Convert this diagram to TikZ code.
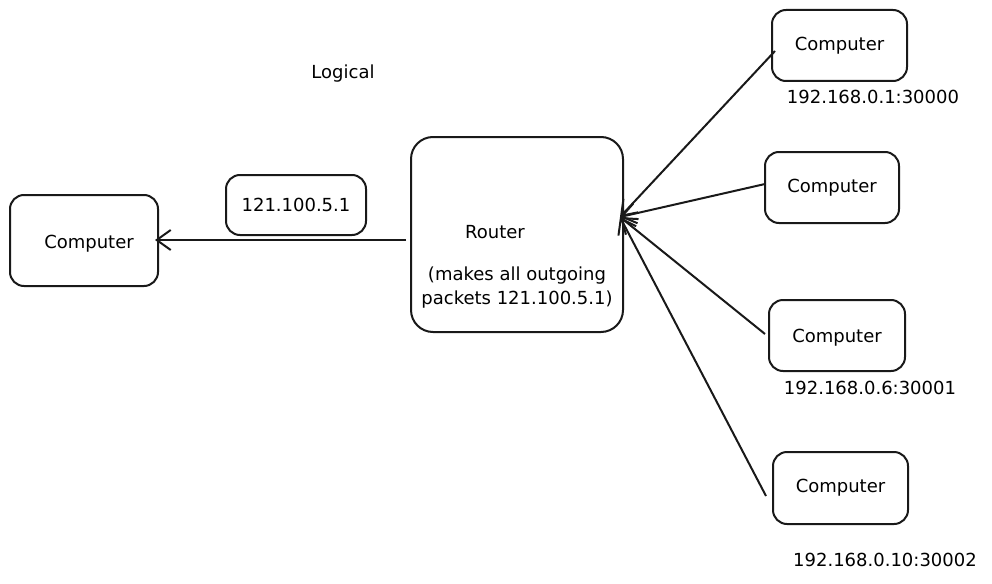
\documentclass[tikz,border=0pt]{standalone}
\usepackage{fontspec}
\setmainfont{DejaVu Sans}
\usetikzlibrary{arrows.meta}
\begin{document}
\begin{tikzpicture}[x=1pt,y=-1pt,
  box/.style={draw=black!90,line width=2pt,rounded corners=14pt,fill=white,inner sep=0pt},
  txt/.style={font=\fontsize{18}{20}\selectfont,inner sep=0pt},
  arr/.style={line width=2pt,draw=black!90,-{Straight Barb[length=14pt,width=20pt,line width=2pt]}}]
\useasboundingbox (0,0) rectangle (992,583);
% boxes
\node[box,minimum width=148pt,minimum height=91pt] (c0) at (84,240.5) {};
\node[box,minimum width=140pt,minimum height=60pt] (ip) at (296,205) {};
\node[box,minimum width=212pt,minimum height=195pt,rounded corners=22pt] (router) at (517,234.5) {};
\node[box,minimum width=135pt,minimum height=71pt] (c1) at (839.5,45.5) {};
\node[box,minimum width=134pt,minimum height=71pt] (c2) at (832,187.5) {};
\node[box,minimum width=136pt,minimum height=71pt] (c3) at (837,335.5) {};
\node[box,minimum width=135pt,minimum height=72pt] (c4) at (840.5,488) {};
% texts
\node[txt] (t0) at (89,244) {Computer};
\node[txt] (tip) at (ip) {121.100.5.1};
\node[txt] (tr) at (495,232) {Router};
\node[txt] (tr2) at (517,276) {(makes all outgoing};
\node[txt] (tr3) at (517,300) {packets 121.100.5.1)};
\node[txt] (t1) at (839.5,46) {Computer};
\node[txt] (t2) at (c2) {Computer};
\node[txt] (t3) at (837,338) {Computer};
\node[txt] (t4) at (c4) {Computer};
\node[txt] (l1) at (873,97) {192.168.0.1:30000};
\node[txt] (l3) at (870,388) {192.168.0.6:30001};
\node[txt] (l4) at (885,560) {192.168.0.10:30002};
\node[txt] (logical) at (343,74) {Logical};
% connectors
\coordinate (rs) at (406,240);
\coordinate (ct) at (155,240);
\coordinate (hub) at (620,217);
\coordinate (s1) at (775,51);
\coordinate (s2) at (765,184);
\coordinate (s3) at (765,334);
\coordinate (s4) at (766,496);
\draw[arr] (rs) -- (ct);
\draw[arr] (s1) -- (hub);
\draw[arr] (s2) -- (hub);
\draw[arr] (s3) -- (hub);
\draw[arr] (s4) -- (hub);
\end{tikzpicture}
\end{document}
